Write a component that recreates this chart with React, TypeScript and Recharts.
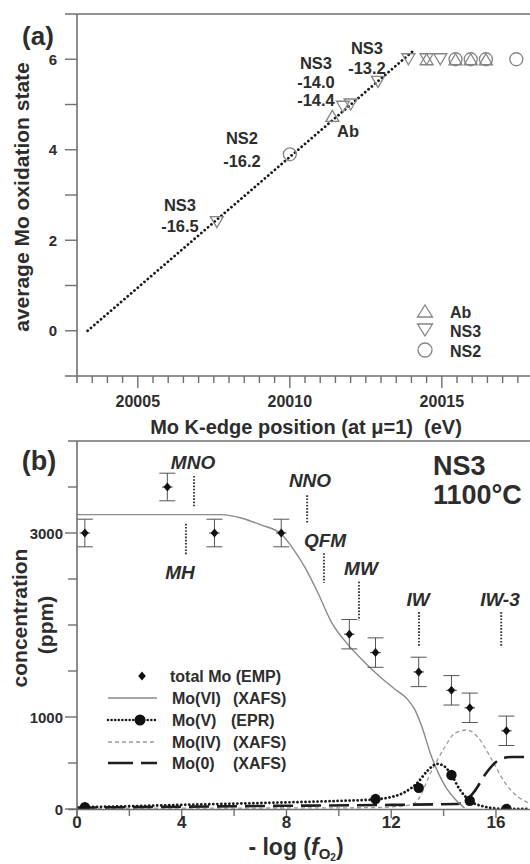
import React from 'react';
import { ComposedChart, Line, Scatter, XAxis, YAxis, ErrorBar, ReferenceLine } from 'recharts';

const FONT = '"Liberation Sans", Arial, Helvetica, sans-serif';
const INK = '#2d2d2d';
const AXC = '#707070';
const MK = '#858585';

// ---------------- panel (a) ----------------
const edgeFitLine = [
  { x: 20003.35, y: 0 },
  { x: 20014.05, y: 6.18 },
];
const abPoints = [
  { x: 20011.4, y: 4.75 },
  { x: 20014.5, y: 6 },
  { x: 20015.45, y: 6 },
  { x: 20015.95, y: 6 },
  { x: 20016.45, y: 6 },
];
const ns3Points = [
  { x: 20007.6, y: 2.4 },
  { x: 20011.75, y: 4.95 },
  { x: 20012.0, y: 5.0 },
  { x: 20012.9, y: 5.5 },
  { x: 20013.9, y: 6 },
  { x: 20014.5, y: 6 },
  { x: 20014.95, y: 6 },
];
const ns2Points = [
  { x: 20010.0, y: 3.9 },
  { x: 20015.45, y: 6 },
  { x: 20015.95, y: 6 },
  { x: 20016.45, y: 6 },
  { x: 20017.45, y: 6 },
];
const aXTickValues = [
  20003.5, 20004, 20004.5, 20005, 20005.5, 20006, 20006.5, 20007, 20007.5, 20008, 20008.5,
  20009, 20009.5, 20010, 20010.5, 20011, 20011.5, 20012, 20012.5, 20013, 20013.5, 20014,
  20014.5, 20015, 20015.5, 20016, 20016.5, 20017, 20017.5,
];
const aXLabels = [20005, 20010, 20015];
const aYTickValues = [0, 1, 2, 3, 4, 5, 6];
const aYLabels = [0, 2, 4, 6];

// ---------------- panel (b) ----------------
const empTotal = [
  { x: 0.3, y: 3000, ex: 0.2, ey: 150 },
  { x: 3.45, y: 3500, ex: 0.2, ey: 150 },
  { x: 5.25, y: 3000, ex: 0.2, ey: 150 },
  { x: 7.8, y: 3000, ex: 0.2, ey: 150 },
  { x: 10.4, y: 1900, ex: 0.2, ey: 160 },
  { x: 11.4, y: 1700, ex: 0.2, ey: 160 },
  { x: 13.05, y: 1490, ex: 0.2, ey: 160 },
  { x: 14.3, y: 1290, ex: 0.2, ey: 160 },
  { x: 15.0, y: 1100, ex: 0.2, ey: 160 },
  { x: 16.4, y: 850, ex: 0.2, ey: 160 },
];
const moVI = [
  { x: 0, y: 3200 }, { x: 5.5, y: 3200 }, { x: 6.3, y: 3160 }, { x: 7.0, y: 3090 },
  { x: 7.8, y: 2990 }, { x: 8.2, y: 2850 }, { x: 8.7, y: 2630 }, { x: 9.2, y: 2350 },
  { x: 9.7, y: 2040 }, { x: 10.4, y: 1770 }, { x: 11.0, y: 1590 }, { x: 11.6, y: 1430 },
  { x: 12.2, y: 1290 }, { x: 12.6, y: 1200 }, { x: 12.9, y: 1080 }, { x: 13.2, y: 870 },
  { x: 13.5, y: 600 }, { x: 13.8, y: 390 }, { x: 14.1, y: 230 }, { x: 14.4, y: 120 },
  { x: 14.8, y: 10 },
];
const moVCurve = [
  { x: 0, y: 20 }, { x: 2, y: 30 }, { x: 4, y: 45 }, { x: 6, y: 58 }, { x: 8, y: 72 },
  { x: 10, y: 88 }, { x: 11.4, y: 105 }, { x: 12.0, y: 130 }, { x: 12.5, y: 180 },
  { x: 13.0, y: 285 }, { x: 13.4, y: 420 }, { x: 13.75, y: 490 }, { x: 14.0, y: 470 },
  { x: 14.3, y: 370 }, { x: 14.6, y: 220 }, { x: 15.0, y: 90 }, { x: 15.5, y: 30 },
  { x: 16.0, y: 6 }, { x: 16.4, y: 0 }, { x: 17.3, y: 0 },
];
const moVPoints = [
  { x: 0.3, y: 20 },
  { x: 11.4, y: 108 },
  { x: 13.05, y: 230 },
  { x: 14.3, y: 370 },
  { x: 15.0, y: 90 },
  { x: 16.4, y: 0 },
];
const moIV = [
  { x: 0, y: 8 }, { x: 6, y: 10 }, { x: 11, y: 14 }, { x: 12.3, y: 28 }, { x: 12.9, y: 65 },
  { x: 13.56, y: 424 }, { x: 14.05, y: 674 }, { x: 14.44, y: 826 }, { x: 14.9, y: 859 },
  { x: 15.3, y: 783 }, { x: 15.85, y: 533 }, { x: 16.35, y: 283 }, { x: 16.85, y: 130 },
  { x: 17.3, y: 60 },
];
const mo0 = [
  { x: 0, y: 15 }, { x: 4, y: 25 }, { x: 8, y: 35 }, { x: 12, y: 45 }, { x: 14.5, y: 55 },
  { x: 14.8, y: 80 }, { x: 15.2, y: 200 }, { x: 15.6, y: 380 }, { x: 16.0, y: 510 },
  { x: 16.3, y: 555 }, { x: 16.6, y: 565 }, { x: 17.3, y: 565 },
];
const bXTickValues = [0, 2, 4, 6, 8, 10, 12, 14, 16];
const bXLabels = [0, 4, 8, 12, 16];
const bYTickValues = [0, 500, 1000, 1500, 2000, 2500, 3000, 3500];
const bYLabels = [0, 1000, 3000];
const bufferNames = ['MNO', 'MH', 'NNO', 'QFM', 'MW', 'IW', 'IW-3'];
const bufferX = [4.47, 4.16, 8.79, 9.43, 10.77, 13.06, 16.2];
const bufferTop = [3620, 3100, 3410, 2780, 2470, 2140, 2140];
const bufferBottom = [3280, 2760, 3100, 2460, 2050, 1770, 1770];
const bufferLabelPos = [
  [193, 469], [180, 579], [310, 487], [325, 547], [361, 575], [418, 606], [500, 606],
];

// ---------------- shapes ----------------
const triUpPath = (cx: number, cy: number, w = 6.5, h = 11) =>
  `M${cx},${cy - h / 2} L${cx + w},${cy + h / 2} L${cx - w},${cy + h / 2} Z`;
const triDownPath = (cx: number, cy: number, w = 6.5, h = 11) =>
  `M${cx},${cy + h / 2} L${cx + w},${cy - h / 2} L${cx - w},${cy - h / 2} Z`;

const TriUp = (p: any) => <path d={triUpPath(p.cx, p.cy)} fill="none" stroke={MK} strokeWidth={1.3} />;
const TriDown = (p: any) => <path d={triDownPath(p.cx, p.cy)} fill="none" stroke={MK} strokeWidth={1.3} />;
const Ring = (p: any) => <circle cx={p.cx} cy={p.cy} r={6.5} fill="none" stroke={MK} strokeWidth={1.3} />;
const Diamond = (p: any) => (
  <polygon points={`${p.cx},${p.cy - 4.5} ${p.cx + 3.8},${p.cy} ${p.cx},${p.cy + 4.5} ${p.cx - 3.8},${p.cy}`} fill="#111" />
);
const BigDot = (p: any) => <circle cx={p.cx} cy={p.cy} r={5.2} fill="#111" />;

// ---------------- ticks ----------------
const makeXTick = (labels: number[], majorLen: number, minorLen: number, fs: number, dy: number) => (props: any) => {
  const { x, y, payload } = props;
  const v = payload.value;
  const major = labels.indexOf(v) >= 0;
  return (
    <g>
      <line x1={x} x2={x} y1={y} y2={y + (major ? majorLen : minorLen)} stroke={AXC} strokeWidth={1.4} />
      {major && (
        <text x={x} y={y + dy} textAnchor="middle" fontFamily={FONT} fontWeight="bold" fontSize={fs} fill={INK}>
          {v}
        </text>
      )}
    </g>
  );
};
const makeYTick = (labels: number[], majorLen: number, minorLen: number, fs: number, gap: number) => (props: any) => {
  const { x, y, payload } = props;
  const v = payload.value;
  const major = labels.indexOf(v) >= 0;
  return (
    <g>
      <line x1={x - (major ? majorLen : minorLen)} x2={x} y1={y} y2={y} stroke={AXC} strokeWidth={1.4} />
      {major && (
        <text x={x - gap} y={y + 5.5} textAnchor="end" fontFamily={FONT} fontWeight="bold" fontSize={fs} fill={INK}>
          {v}
        </text>
      )}
    </g>
  );
};

const T = (p: any) => (
  <text fontFamily={FONT} fontWeight="bold" fill={INK} {...p} />
);

export default function App() {
  return (
    <div style={{ position: 'absolute', left: 0, top: 0, width: 530, height: 864, background: '#fff' }}>
      {/* panel (a) */}
      <div style={{ position: 'absolute', left: 0, top: 0 }}>
        <ComposedChart width={530} height={440} margin={{ top: 14, right: 0, bottom: 0, left: 0 }}>
          <XAxis
            dataKey="x"
            type="number"
            domain={[20003, 20017.9]}
            allowDataOverflow
            ticks={aXTickValues}
            interval={0}
            height={64}
            axisLine={false}
            tickLine={false}
            tickSize={0}
            tickMargin={0}
            tick={makeXTick(aXLabels, 12, 7, 16, 31)}
          />
          <YAxis
            type="number"
            domain={[-1, 7]}
            allowDataOverflow
            ticks={aYTickValues}
            interval={0}
            width={77}
            axisLine={false}
            tickLine={false}
            tickSize={0}
            tickMargin={0}
            tick={makeYTick(aYLabels, 12, 12, 15, 20)}
          />
          <Line data={edgeFitLine} dataKey="y" type="linear" stroke="#1a1a1a" strokeWidth={2.8}
            strokeDasharray="0.01 4.4" strokeLinecap="round" dot={false} isAnimationActive={false} />
          <Scatter data={ns3Points} dataKey="y" shape={TriDown} isAnimationActive={false} />
          <Scatter data={abPoints} dataKey="y" shape={TriUp} isAnimationActive={false} />
          <Scatter data={ns2Points} dataKey="y" shape={Ring} isAnimationActive={false} />
        </ComposedChart>
      </div>

      {/* panel (b) */}
      <div style={{ position: 'absolute', left: 0, top: 430 }}>
        <ComposedChart width={530} height={434} margin={{ top: 11, right: 0, bottom: 0, left: 0 }}>
          <XAxis
            dataKey="x"
            type="number"
            domain={[0, 17.3]}
            allowDataOverflow
            ticks={bXTickValues}
            interval={0}
            height={55}
            axisLine={false}
            tickLine={false}
            tickSize={0}
            tickMargin={0}
            tick={makeXTick(bXLabels, 9, 7, 17, 19)}
          />
          <YAxis
            type="number"
            domain={[0, 4000]}
            allowDataOverflow
            ticks={bYTickValues}
            interval={0}
            width={77}
            axisLine={false}
            tickLine={false}
            tickSize={0}
            tickMargin={0}
            tick={makeYTick(bYLabels, 12, 9, 15, 14)}
          />
          {bufferNames.map((n, i) => (
            <ReferenceLine
              key={n}
              segment={[{ x: bufferX[i], y: bufferTop[i] }, { x: bufferX[i], y: bufferBottom[i] }]}
              stroke="#3a3a3a"
              strokeWidth={2}
              strokeDasharray="1.6 1.6"
              ifOverflow="visible"
            />
          ))}
          <Line data={moIV} dataKey="y" type="monotone" stroke="#9a9a9a" strokeWidth={1.3}
            strokeDasharray="4 3" dot={false} isAnimationActive={false} />
          <Line data={mo0} dataKey="y" type="monotone" stroke="#1e1e1e" strokeWidth={2.6}
            strokeDasharray="20 8" dot={false} isAnimationActive={false} />
          <Line data={moVI} dataKey="y" type="monotone" stroke="#8a8a8a" strokeWidth={1.4}
            dot={false} isAnimationActive={false} />
          <Line data={moVCurve} dataKey="y" type="monotone" stroke="#1a1a1a" strokeWidth={2.8}
            strokeDasharray="0.01 4" strokeLinecap="round" dot={false} isAnimationActive={false} />
          <Scatter data={moVPoints} dataKey="y" shape={BigDot} isAnimationActive={false} />
          <Scatter data={empTotal} dataKey="y" shape={Diamond} isAnimationActive={false}>
            <ErrorBar dataKey="ey" direction="y" width={8} stroke="#555" strokeWidth={1} />
            <ErrorBar dataKey="ex" direction="x" width={0} stroke="#555" strokeWidth={1.2} />
          </Scatter>
        </ComposedChart>
      </div>

      {/* frame, titles, annotations, legends */}
      <svg width={530} height={864} style={{ position: 'absolute', left: 0, top: 0, pointerEvents: 'none' }}>
        <g stroke={AXC} strokeWidth={1.6}>
          <line x1={65} y1={14} x2={530} y2={14} />
          <line x1={77} y1={14} x2={77} y2={383} />
          <line x1={65} y1={376} x2={530} y2={376} />
          <line x1={68} y1={441} x2={530} y2={441} />
          <line x1={77} y1={441} x2={77} y2={817} />
          <line x1={68} y1={809.5} x2={530} y2={809.5} />
        </g>

        {/* panel (a) texts */}
        <T x={38} y={45} fontSize={26} textAnchor="middle">(a)</T>
        <T transform="translate(29,197) rotate(-90)" fontSize={21} textAnchor="middle">average Mo oxidation state</T>
        <T x={306} y={434} fontSize={20} textAnchor="middle" style={{ whiteSpace: 'pre' }}>{'Mo K-edge position (at \u03bc=1)  (eV)'}</T>

        <T x={180} y={211} fontSize={16.5} textAnchor="middle">NS3</T>
        <T x={180} y={232} fontSize={16.5} textAnchor="middle">-16.5</T>
        <T x={242} y={144} fontSize={16.5} textAnchor="middle">NS2</T>
        <T x={242} y={167} fontSize={16.5} textAnchor="middle">-16.2</T>
        <T x={316} y={69} fontSize={16.5} textAnchor="middle">NS3</T>
        <T x={316} y={88} fontSize={16.5} textAnchor="middle">-14.0</T>
        <T x={316} y={106} fontSize={16.5} textAnchor="middle">-14.4</T>
        <T x={348} y={137} fontSize={16.5} textAnchor="middle">Ab</T>
        <T x={367} y={54} fontSize={16.5} textAnchor="middle">NS3</T>
        <T x={367} y={74} fontSize={16.5} textAnchor="middle">-13.2</T>

        {/* legend (a) */}
        <path d={triUpPath(425, 311, 7.5, 12)} fill="none" stroke={MK} strokeWidth={1.3} />
        <path d={triDownPath(425, 330, 7.5, 12)} fill="none" stroke={MK} strokeWidth={1.3} />
        <circle cx={425} cy={350} r={7} fill="none" stroke={MK} strokeWidth={1.3} />
        <T x={450} y={318} fontSize={16}>Ab</T>
        <T x={450} y={337} fontSize={16}>NS3</T>
        <T x={450} y={357} fontSize={16}>NS2</T>

        {/* panel (b) texts */}
        <T x={39} y={470} fontSize={27} textAnchor="middle">(b)</T>
        <T x={433} y={475} fontSize={27}>NS3</T>
        <T x={433} y={504} fontSize={27}>1100°C</T>
        <T transform="translate(27,618) rotate(-90)" fontSize={21} textAnchor="middle">concentration</T>
        <T transform="translate(53,625) rotate(-90)" fontSize={21} textAnchor="middle">(ppm)</T>
        <T x={296} y={855} fontSize={23} textAnchor="middle">
          {'- log ('}
          <tspan fontStyle="italic">f</tspan>
          <tspan fontSize={15} dy={4}>O</tspan>
          <tspan fontSize={10} dy={2}>2</tspan>
          <tspan fontSize={23} dy={-6}>)</tspan>
        </T>
        {bufferNames.map((n, i) => (
          <T key={n} x={bufferLabelPos[i][0]} y={bufferLabelPos[i][1]} fontSize={19} fontStyle="italic" textAnchor="middle">
            {n}
          </T>
        ))}

        {/* legend (b) */}
        <polygon points="142,671.5 145.8,676 142,680.5 138.2,676" fill="#111" />
        <T x={170} y={682} fontSize={16}>total Mo (EMP)</T>
        <line x1={108} x2={157} y1={698} y2={698} stroke="#8a8a8a" strokeWidth={1.4} />
        <T x={172} y={704} fontSize={16}>Mo(VI)</T>
        <T x={233} y={704} fontSize={16}>(XAFS)</T>
        <line x1={108} x2={157} y1={720} y2={720} stroke="#1a1a1a" strokeWidth={2.6} strokeDasharray="0.01 3.6" strokeLinecap="round" />
        <circle cx={140} cy={720} r={5.5} fill="#111" />
        <T x={172} y={726} fontSize={16}>Mo(V)</T>
        <T x={231} y={726} fontSize={16}>(EPR)</T>
        <line x1={108} x2={157} y1={742} y2={742} stroke="#9a9a9a" strokeWidth={1.3} strokeDasharray="4 3" />
        <T x={172} y={748} fontSize={16}>Mo(IV)</T>
        <T x={233} y={748} fontSize={16}>(XAFS)</T>
        <line x1={108} x2={157} y1={763} y2={763} stroke="#1e1e1e" strokeWidth={2.6} strokeDasharray="25 8" />
        <T x={172} y={769} fontSize={16}>Mo(0)</T>
        <T x={233} y={769} fontSize={16}>(XAFS)</T>
      </svg>
    </div>
  );
}
